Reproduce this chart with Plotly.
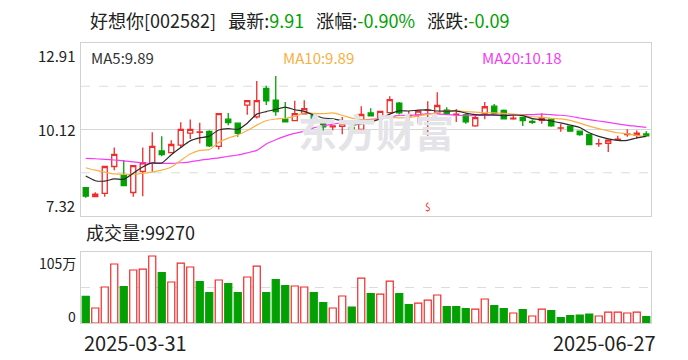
import plotly.graph_objects as go

# ---------------- data ----------------
opens = [8.24, 7.95, 8.05, 8.92, 8.64, 8.08, 8.76, 9.02, 9.42, 9.37,
         9.61, 10.00, 10.02, 10.05, 9.57, 10.45, 10.32, 10.90, 10.52, 11.44,
         11.06, 10.45, 10.40, 10.62, 10.58, 10.34, 10.20, 10.22, 10.18, 10.12,
         10.65, 10.47, 10.66, 10.97, 10.56, 10.58, 10.73, 10.65, 10.74, 10.60,
         10.59, 10.23, 10.63, 10.87, 10.73, 10.46, 10.51, 10.38, 10.41, 10.45,
         10.16, 10.22, 10.06, 9.96, 9.65, 9.67, 9.79, 9.95, 9.93, 9.97]
highs = [8.24, 8.09, 8.92, 9.53, 9.13, 8.95, 9.53, 10.03, 9.90, 9.77,
         10.35, 10.44, 10.33, 10.09, 10.63, 10.65, 10.32, 11.05, 11.68, 11.53,
         11.84, 11.00, 11.04, 11.06, 10.58, 10.36, 10.25, 10.52, 10.20, 10.87,
         10.80, 10.70, 11.19, 11.00, 10.72, 10.71, 11.03, 11.32, 10.83, 10.78,
         10.62, 10.55, 11.00, 10.94, 10.76, 10.60, 10.52, 10.44, 10.64, 10.46,
         10.29, 10.23, 10.08, 9.97, 9.82, 9.79, 9.91, 10.12, 10.08, 10.06]
lows = [7.91, 7.95, 7.94, 8.80, 8.29, 7.94, 7.96, 8.75, 9.25, 9.37,
        9.53, 9.81, 9.66, 9.55, 9.47, 10.25, 9.88, 10.59, 10.47, 10.91,
        10.56, 10.36, 10.40, 10.62, 10.34, 9.99, 10.09, 9.96, 9.96, 10.01,
        10.56, 10.28, 10.66, 10.61, 10.36, 10.31, 9.91, 10.63, 10.63, 10.36,
        10.30, 10.20, 10.45, 10.63, 10.44, 10.43, 10.23, 10.29, 10.30, 10.20,
        10.04, 10.06, 9.91, 9.63, 9.56, 9.39, 9.76, 9.88, 9.82, 9.90]
closes = [7.96, 8.03, 8.92, 9.31, 8.30, 8.95, 9.04, 9.57, 9.30, 9.63,
          10.12, 10.12, 10.04, 9.59, 10.63, 10.34, 9.99, 11.05, 11.05, 11.04,
          10.69, 10.36, 10.63, 10.79, 10.45, 10.20, 10.23, 10.31, 10.12, 10.60,
          10.56, 10.70, 11.08, 10.65, 10.57, 10.71, 10.74, 10.89, 10.63, 10.61,
          10.36, 10.50, 10.85, 10.63, 10.46, 10.48, 10.40, 10.35, 10.49, 10.23,
          10.17, 10.06, 9.95, 9.63, 9.66, 9.77, 9.80, 9.97, 10.00, 9.91]
# volume in 万手
volumes = [41.8, 23.5, 56.4, 92.5, 56.9, 83.1, 84.6, 105.0, 78.9, 64.3,
           94.0, 87.8, 64.8, 47.5, 67.4, 61.6, 47.5, 72.1, 89.3, 47.5,
           67.9, 58.5, 58.0, 56.4, 47.5, 31.9, 23.5, 42.3, 25.1, 70.5,
           46.0, 45.4, 65.8, 46.0, 28.7, 31.3, 36.0, 43.9, 25.6, 25.6,
           22.5, 21.9, 37.6, 27.2, 22.5, 15.7, 20.9, 11.0, 21.9, 19.3,
           8.4, 11.5, 12.5, 14.1, 11.0, 17.2, 17.2, 15.7, 17.2, 9.927]
vol_up = [0, 1, 1, 1, 0, 1, 1, 1, 0, 1,
          1, 1, 0, 0, 1, 0, 0, 1, 1, 0,
          0, 0, 1, 1, 0, 0, 1, 1, 0, 1,
          0, 1, 1, 0, 0, 1, 1, 1, 0, 0,
          0, 1, 1, 0, 0, 1, 0, 1, 1, 0,
          0, 0, 0, 0, 1, 1, 1, 1, 1, 0]
# moving-average values before the window is complete
ma5_head = [8.61, 8.46, 8.45, 8.52]
ma10_head = [8.88, 8.80, 8.74, 8.68, 8.67, 8.67, 8.70, 8.74, 8.80]
ma20_head = [9.18, 9.17, 9.15, 9.13, 9.10, 9.07, 9.04, 9.02, 9.02, 9.02,
             9.04, 9.07, 9.12, 9.16, 9.20, 9.25, 9.29, 9.36, 9.44]
date_labels = ["2025-03-31", "2025-06-27"]
stock_name = "好想你[002582]"
last_price = 9.91
pct_change = "-0.90%"
abs_change = "-0.09"
price_ticks = [7.32, 10.12, 12.91]
vol_top_label = "105万"
dividend_day = 36

RED = "#f22a2a"
GREEN = "#02a002"
ORANGE = "#f8b042"
MAGENTA = "#f53cf5"
BLACK_MA = "#2a2a2a"


def moving_avg(vals, n, head):
    out = list(head)
    for i in range(n - 1, len(vals)):
        out.append(sum(vals[i - n + 1:i + 1]) / n)
    return out


ma5 = moving_avg(closes, 5, ma5_head)
ma10 = moving_avg(closes, 10, ma10_head)
ma20 = moving_avg(closes, 20, ma20_head)

N = len(closes)
xs = list(range(N))

# ---------------- geometry (page pixels; page body has an 8px margin) ----------------
OFF = 8
W, H = 688 - OFF, 360 - OFF
L, R, T, B = 81, 651, 43, 323
pw, ph = R - L, B - T


def px(x):
    return (x - L) / pw


def py(y):
    return (B - y) / ph


price_dom = [py(216), 1.0]
vol_dom = [0.0, py(252)]
ymin, ymax = price_ticks[0], price_ticks[-1]
vmax = 111.3

fig = go.Figure()

up_idx = [i for i in xs if closes[i] >= opens[i]]
dn_idx = [i for i in xs if closes[i] < opens[i]]
for idx, col, fill in [(up_idx, RED, "#ffffff"), (dn_idx, GREEN, GREEN)]:
    fig.add_trace(go.Candlestick(
        x=idx, open=[opens[i] for i in idx], high=[highs[i] for i in idx],
        low=[lows[i] for i in idx], close=[closes[i] for i in idx],
        increasing=dict(line=dict(color=col, width=1.3), fillcolor=fill),
        decreasing=dict(line=dict(color=col, width=1.3), fillcolor=fill),
        whiskerwidth=0, xaxis="x", yaxis="y", showlegend=False, hoverinfo="skip"))

for vals, col in [(ma20, MAGENTA), (ma10, ORANGE), (ma5, BLACK_MA)]:
    fig.add_trace(go.Scatter(x=xs, y=vals, mode="lines",
                             line=dict(color=col, width=1.2, shape="spline", smoothing=0.6),
                             xaxis="x", yaxis="y", showlegend=False, hoverinfo="skip"))

fig.add_trace(go.Bar(
    x=xs, y=volumes, width=0.74,
    marker=dict(color=["#ffffff" if u else GREEN for u in vol_up],
                line=dict(color=[RED if u else GREEN for u in vol_up], width=1.2)),
    xaxis="x2", yaxis="y2", showlegend=False, hoverinfo="skip"))

axis_common = dict(showgrid=False, zeroline=False, showticklabels=False,
                   showline=True, mirror=True, linecolor="#d2d2d2", linewidth=1,
                   ticks="")
fig.update_layout(
    width=W, height=H,
    margin=dict(l=L - OFF, r=(W + OFF) - R, t=T - OFF, b=(H + OFF) - B),
    paper_bgcolor="white", plot_bgcolor="white", boxgap=0.24,
    xaxis=dict(domain=[0, 1], range=[-0.5, N - 0.5], anchor="y",
               rangeslider=dict(visible=False), **axis_common),
    yaxis=dict(domain=price_dom, range=[ymin, ymax], anchor="x", **axis_common),
    xaxis2=dict(domain=[0, 1], range=[-0.5, N - 0.5], anchor="y2", matches="x",
                **axis_common),
    yaxis2=dict(domain=vol_dom, range=[0, vmax], anchor="x2", **axis_common),
    font=dict(family="Noto Sans CJK SC", color="#222222"),
)

# grid lines
step = (ymax - ymin) / 4
for k in (1, 2, 3):
    fig.add_shape(type="line", xref="x domain", yref="y", x0=0, x1=1,
                  y0=ymin + k * step, y1=ymin + k * step, layer="below",
                  line=dict(color="#d6d6d6" if k == 2 else "#dcdcdc", width=1,
                            dash="solid" if k == 2 else "dash"))
fig.add_shape(type="line", xref="x2 domain", yref="y2", x0=0, x1=1,
              y0=vmax / 2, y1=vmax / 2, layer="below",
              line=dict(color="#dcdcdc", width=1, dash="dash"))

ann = []
# watermark
ann.append(dict(x=px(376), y=py(100), xref="paper", yref="paper", text="<b>东方财富</b>",
                showarrow=False, font=dict(size=39, color="#e4e4e8",
                                           family="Noto Sans CJK SC")))
# title
g = lambda s: f"<span style='color:{GREEN}'>{s}</span>"
sp = "\u00a0\u00a0\u00a0"
title = (f"{stock_name}{sp}最新:{g(f'{last_price:.2f}')}{sp}"
         f"涨幅:{g(pct_change)}{sp}涨跌:{g(abs_change)}")
ann.append(dict(x=px(88), y=py(20), xref="paper", yref="paper", text=title,
                xanchor="left", yanchor="middle", showarrow=False,
                font=dict(size=18, color="#222222")))
# MA labels
for xpix, lab, val, col in [(89, "MA5", ma5[-1], "#333333"), (281, "MA10", ma10[-1], ORANGE),
                            (480, "MA20", ma20[-1], MAGENTA)]:
    ann.append(dict(x=px(xpix), y=py(57), xref="paper", yref="paper",
                    text=f"{lab}:{val:.2f}", xanchor="left", yanchor="middle",
                    showarrow=False, font=dict(size=15, color=col)))
# price axis labels
for ypix, v in [(56, price_ticks[2]), (129, price_ticks[1]), (206, price_ticks[0])]:
    ann.append(dict(x=px(77), y=py(ypix), xref="paper", yref="paper", text=f"{v:.2f}",
                    xanchor="right", yanchor="middle", showarrow=False,
                    font=dict(size=15, color="#222222")))
# volume labels
ann.append(dict(x=px(84), y=py(232), xref="paper", yref="paper",
                text=f"成交量:{int(round(volumes[-1] * 10000))}", xanchor="left",
                yanchor="middle", showarrow=False, font=dict(size=18, color="#222222")))
ann.append(dict(x=px(78), y=py(263), xref="paper", yref="paper", text=vol_top_label,
                xanchor="right", yanchor="middle", showarrow=False,
                font=dict(size=14, color="#222222")))
ann.append(dict(x=px(78), y=py(316), xref="paper", yref="paper", text="0",
                xanchor="right", yanchor="middle", showarrow=False,
                font=dict(size=14, color="#222222")))
# dates
ann.append(dict(x=px(82), y=py(342), xref="paper", yref="paper", text=date_labels[0],
                xanchor="left", yanchor="middle", showarrow=False,
                font=dict(size=20, color="#222222")))
ann.append(dict(x=px(658), y=py(342), xref="paper", yref="paper", text=date_labels[1],
                xanchor="right", yanchor="middle", showarrow=False,
                font=dict(size=20, color="#222222")))
# dividend marker
ann.append(dict(x=dividend_day, y=py(207), xref="x", yref="paper", text="$",
                xanchor="center", yanchor="middle", showarrow=False,
                font=dict(size=10, color=RED)))
fig.update_layout(annotations=ann)

fig.write_html("out.html")
